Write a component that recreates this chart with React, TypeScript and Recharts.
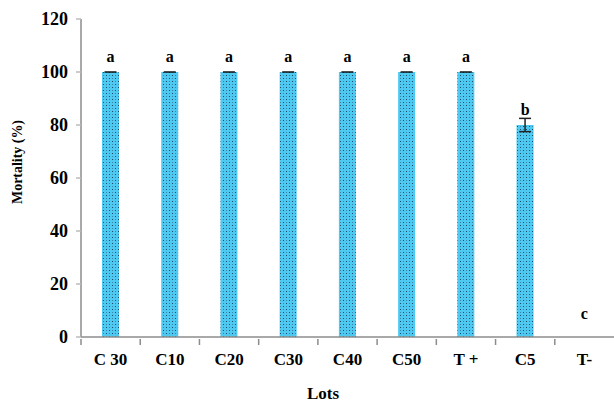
import React from 'react';
import { ComposedChart, Bar, Line, XAxis, YAxis, ErrorBar, LabelList } from 'recharts';

const categories = ['C 30', 'C10', 'C20', 'C30', 'C40', 'C50', 'T +', 'C5', 'T-'];
const mortality = [100, 100, 100, 100, 100, 100, 100, 80, 0];
const errors = [0, 0, 0, 0, 0, 0, 0, 2.5, 0];
const letters = ['a', 'a', 'a', 'a', 'a', 'a', 'a', 'b', 'c'];
const letterPos = [106, 106, 106, 106, 106, 106, 106, 86, 9];
const yTicks = [0, 20, 40, 60, 80, 100, 120];

const data = categories.map((c, i) => ({
  name: c,
  value: mortality[i],
  err: errors[i],
  letter: letters[i],
  pos: letterPos[i],
}));

const FONT = '"Liberation Serif", "Times New Roman", serif';
const AXIS = '#8c8c8c';

const XTick = (props: any) => {
  const { x, y, payload } = props;
  const half = 533 / 9 / 2;
  return (
    <g>
      <line x1={x - half} x2={x - half} y1={y} y2={y + 6} stroke={AXIS} strokeWidth={1.5} />
      <text x={x} y={y + 26} textAnchor="middle" fontFamily={FONT} fontWeight="bold" fontSize={17} fill="#000">
        {payload.value}
      </text>
    </g>
  );
};

const YLabel = () => (
  <text
    x={0}
    y={0}
    transform="translate(22,162) rotate(-90)"
    textAnchor="middle"
    fontFamily={FONT}
    fontWeight="bold"
    fontSize={15}
    textLength={84}
    lengthAdjust="spacingAndGlyphs"
    fill="#000"
  >
    Mortality (%)
  </text>
);

const XLabel = () => (
  <text x={323} y={399} textAnchor="middle" fontFamily={FONT} fontWeight="bold" fontSize={17} fill="#000">
    Lots
  </text>
);

const BarShape = (props: any) => {
  const { x, y, width, height, fill, payload } = props;
  if (!height || height <= 0) return null;
  const cx = x + width / 2;
  return (
    <g>
      <rect x={x} y={y} width={width} height={height} fill={fill} />
      {payload.err === 0 && (
        <line x1={cx - 6} x2={cx + 6} y1={y} y2={y} stroke="#111" strokeWidth={1.5} />
      )}
    </g>
  );
};

export default function App() {
  return (
    <div style={{ position: 'absolute', left: 0, top: 0 }}>
      <ComposedChart width={614} height={405} data={data} margin={{ top: 19, right: 0, bottom: 38, left: 0 }}>
        <defs>
          <pattern id="dots" width="6" height="6" patternUnits="userSpaceOnUse">
            <rect width="6" height="6" fill="#4dc9f2" />
            <rect x="1" y="0" width="1" height="1" fill="#1c4a66" />
            <rect x="4" y="3" width="1" height="1" fill="#1c4a66" />
            <rect x="4" y="0" width="1" height="1" fill="#3a86a8" />
            <rect x="1" y="3" width="1" height="1" fill="#3a86a8" />
          </pattern>
        </defs>
        <XAxis
          dataKey="name"
          height={30}
          tickLine={false}
          tickSize={0}
          tick={<XTick />}
          axisLine={{ stroke: AXIS, strokeWidth: 1.5 }}
          interval={0}
          label={<XLabel />}
        />
        <YAxis
          width={81}
          domain={[0, 120]}
          ticks={yTicks}
          tickSize={5}
          tickLine={{ stroke: '#bbb', strokeWidth: 1.5 }}
          axisLine={{ stroke: AXIS, strokeWidth: 1.5 }}
          tick={{ fontFamily: FONT, fontWeight: 'bold', fontSize: 18, fill: '#000' }}
          tickMargin={8}
          label={<YLabel />}
        />
        <Bar dataKey="value" fill="url(#dots)" barSize={17} shape={<BarShape />} isAnimationActive={false}>
          <ErrorBar dataKey="err" width={6} stroke="#222" strokeWidth={1.5} direction="y" />
        </Bar>
        <Line dataKey="pos" stroke="none" dot={false} activeDot={false} isAnimationActive={false} legendType="none">
          <LabelList dataKey="letter" position="center" style={{ fontFamily: FONT, fontWeight: 'bold', fontSize: 16, fill: '#000' }} />
        </Line>
      </ComposedChart>
    </div>
  );
}
